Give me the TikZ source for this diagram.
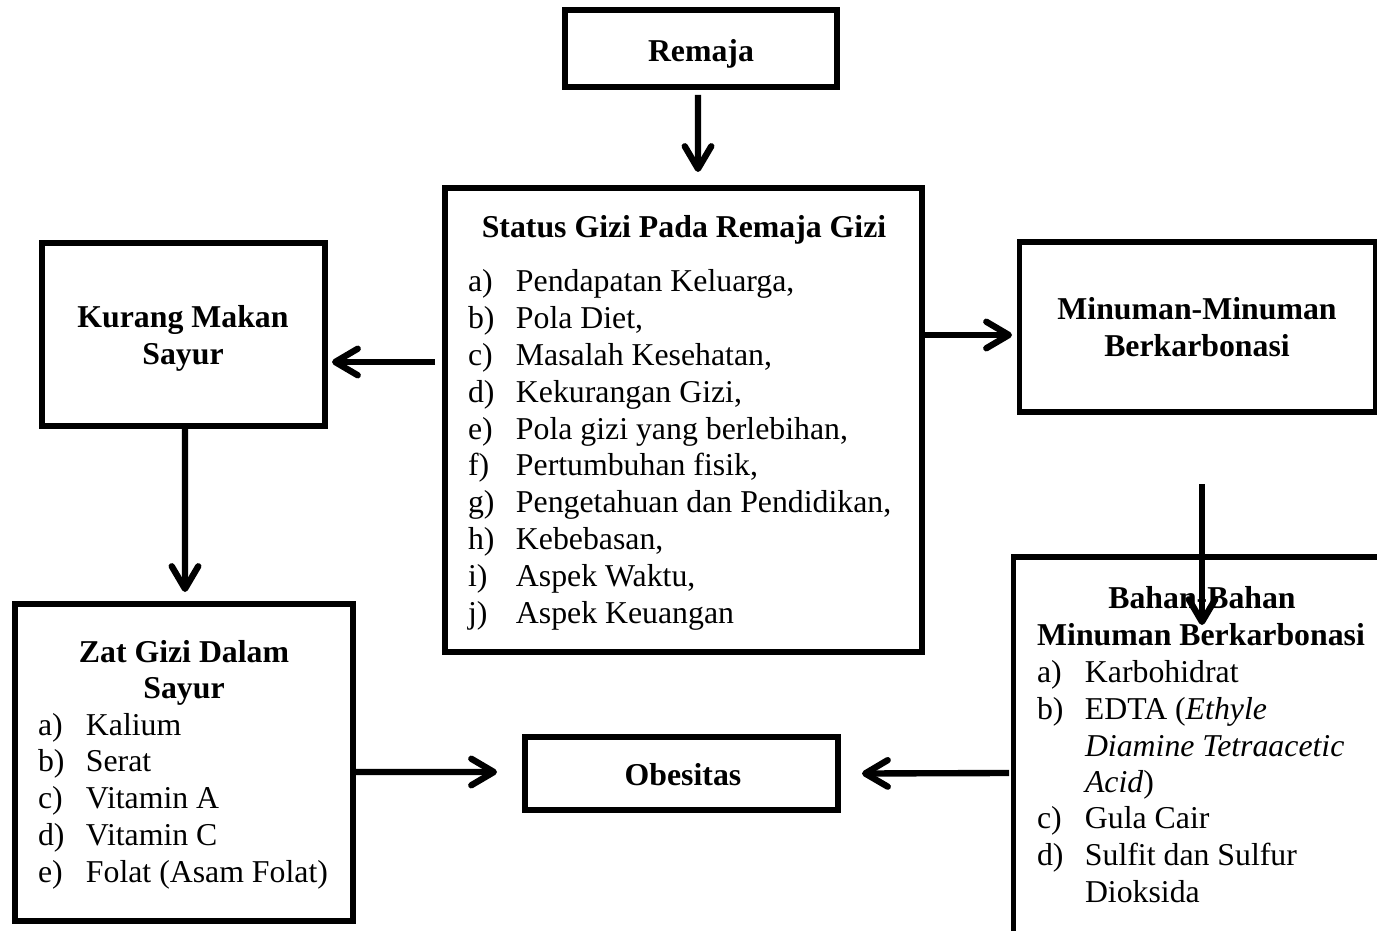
\documentclass[tikz,border=0pt]{standalone}
\usepackage{fontspec}
\setmainfont{Liberation Serif}
\usetikzlibrary{arrows.meta,calc,fit}
\begin{document}
\begin{tikzpicture}[x=0.3774pt,y=-0.3774pt,
  box/.style={draw, line width=1.9pt, inner sep=0pt, outer sep=0pt},
  arr/.style={line width=2.4pt, -{Straight Barb[length=8.5pt,width=10pt,line cap=round,line join=round]}},
  txt/.style={inner sep=0pt, outer sep=0pt, font=\fontsize{12}{13.8}\selectfont},
  bt/.style={txt, anchor=base, font=\fontsize{12}{13.8}\selectfont\bfseries},
  li/.style={txt, anchor=base west}]
\useasboundingbox (0,0) rectangle (1377,931);
\clip (0,0) rectangle (1377,931);
\newcommand{\lab}[1]{\makebox[18.1pt][l]{#1}}
% boxes
\node[box, fit={(565,10) (837,87)}] (remaja) {};
\node[box, fit={(445,188) (922,652)}] (status) {};
\node[box, fit={(42,243) (325,426)}] (kurang) {};
\node[box, fit={(1019,242) (1375,412)}] (minuman) {};
\node[box, fit={(15,604) (353,921)}] (zat) {};
\node[box, fit={(525,737) (838,810)}] (obes) {};
\node[box, fit={(1013,557) (1430,990)}] (bahan) {};
\coordinate (bahanNW) at (bahan.north west);
% texts
\node[bt] (tremaja) at (701,62) {Remaja};
\node[bt] (tstatus) at (684,238) {Status Gizi Pada Remaja Gizi};
\node[li] (s1) at (468,292.0) {\lab{a)}Pendapatan Keluarga,};
\node[li] (s2) at (468,328.8) {\lab{b)}Pola Diet,};
\node[li] (s3) at (468,365.6) {\lab{c)}Masalah Kesehatan,};
\node[li] (s4) at (468,402.4) {\lab{d)}Kekurangan Gizi,};
\node[li] (s5) at (468,439.2) {\lab{e)}Pola gizi yang berlebihan,};
\node[li] (s6) at (468,476.0) {\lab{f)}Pertumbuhan fisik,};
\node[li] (s7) at (468,512.8) {\lab{g)}Pengetahuan dan Pendidikan,};
\node[li] (s8) at (468,549.6) {\lab{h)}Kebebasan,};
\node[li] (s9) at (468,586.4) {\lab{i)}Aspek Waktu,};
\node[li] (s10) at (468,623.2) {\lab{j)}Aspek Keuangan};
\node[bt] (tk1) at (183,328) {Kurang Makan};
\node[bt] (tk2) at (183,365) {Sayur};
\node[bt] (tm1) at (1197,320) {Minuman-Minuman};
\node[bt] (tm2) at (1197,357) {Berkarbonasi};
\node[bt] (tobes) at (683,785) {Obesitas};
\node[bt] (tz1) at (184,662) {Zat Gizi Dalam};
\node[bt] (tz2) at (184,698) {Sayur};
\node[li] (z1) at (38,735.0) {\lab{a)}Kalium};
\node[li] (z2) at (38,771.8) {\lab{b)}Serat};
\node[li] (z3) at (38,808.6) {\lab{c)}Vitamin A};
\node[li] (z4) at (38,845.4) {\lab{d)}Vitamin C};
\node[li] (z5) at (38,882.2) {\lab{e)}Folat (Asam Folat)};
\node[bt] (tb1) at (1202,608) {Bahan-Bahan};
\node[bt] (tb2) at (1201,645) {Minuman Berkarbonasi};
\node[li] (b1) at (1037,682) {\lab{a)}Karbohidrat};
\node[li] (b2) at (1037,719) {\lab{b)}EDTA (\textit{Ethyle}};
\node[li] (b3) at (1085,756) {\textit{Diamine Tetraacetic}};
\node[li] (b4) at (1085,792) {\textit{Acid})};
\node[li] (b5) at (1037,828) {\lab{c)}Gula Cair};
\node[li] (b6) at (1037,865) {\lab{d)}Sulfit dan Sulfur};
\node[li] (b7) at (1085,902) {Dioksida};
% arrows
\draw[arr] ($(remaja.south)+(-3,8)$) -- ($(status.north)+(14.5,-16)$);
\draw[arr] ($(status.west)+(-10,-58)$) -- ($(kurang.east)+(7,27.5)$);
\draw[arr] ($(status.east)+(0,-85)$) -- ($(minuman.west)+(-7,8)$);
\draw[arr] ($(kurang.south)+(1.5,0)$) -- ($(zat.north)+(1,-12)$);
\draw[arr] ($(zat.east)+(0,9.5)$) -- ($(obes.west)+(-28,-1.5)$);
\draw[arr] ($(bahanNW)+(-4,216)$) -- ($(obes.east)+(24,0)$);
\draw[arr] ($(minuman.south)+(5,72)$) -- ($(bahanNW)+(189,68)$);
\end{tikzpicture}
\end{document}
